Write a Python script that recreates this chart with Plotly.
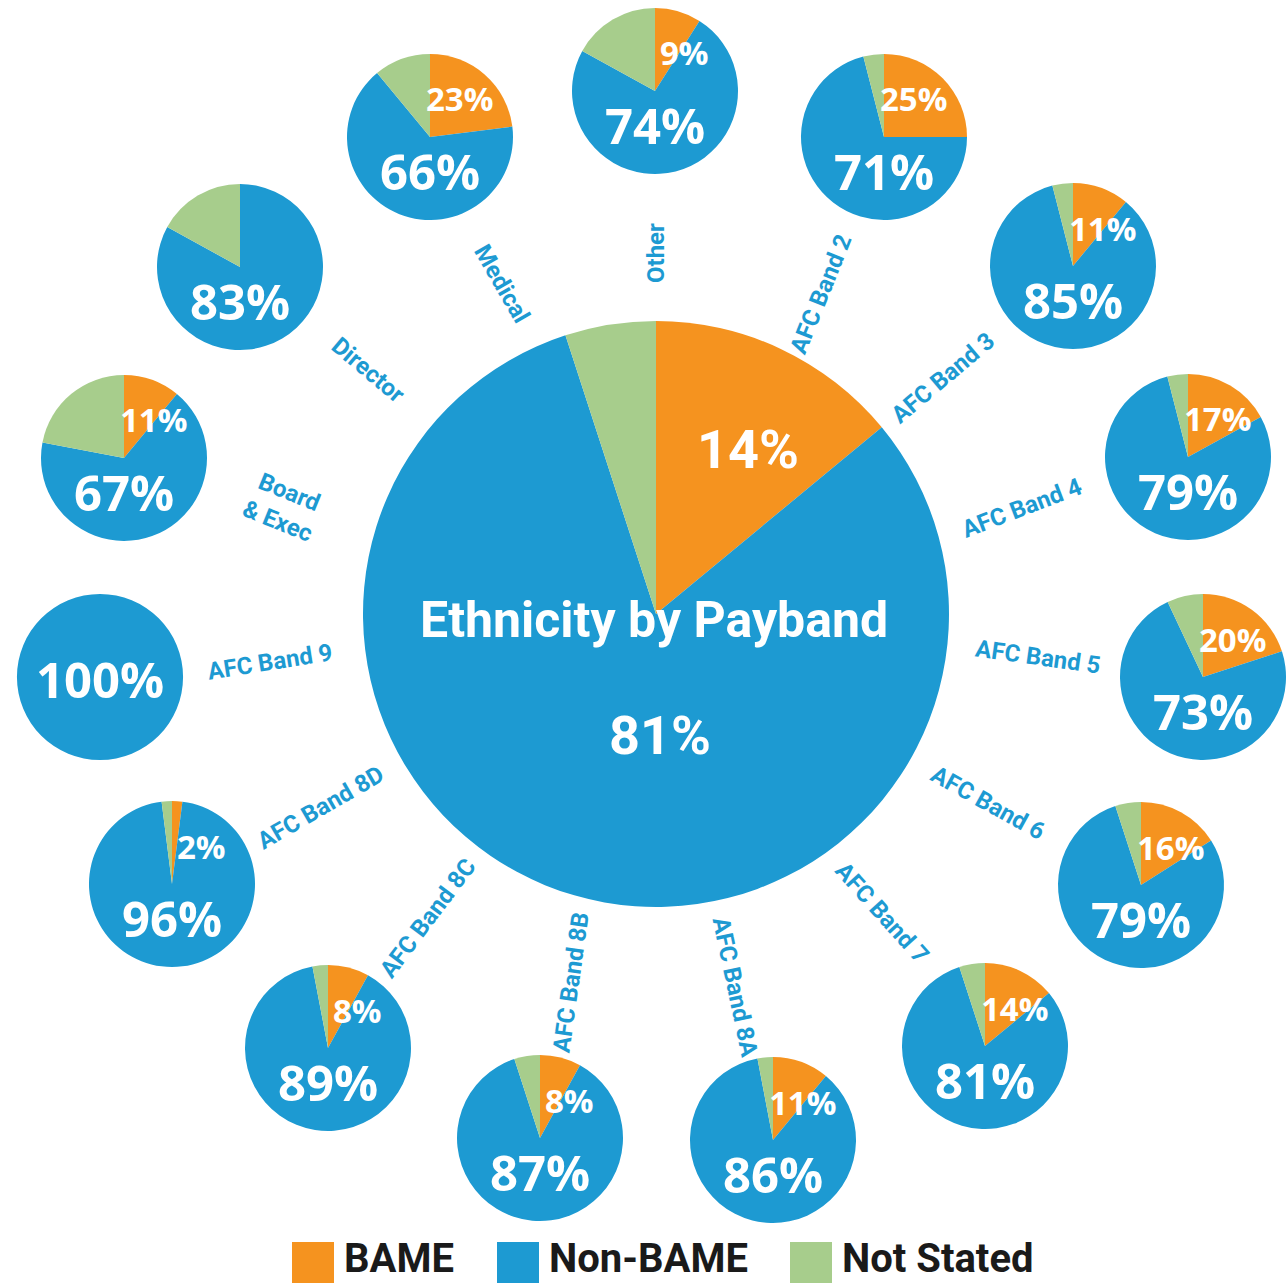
import plotly.graph_objects as go

# ---- data -------------------------------------------------------------
groups = ["Other", "AFC Band 2", "AFC Band 3", "AFC Band 4", "AFC Band 5",
          "AFC Band 6", "AFC Band 7", "AFC Band 8A", "AFC Band 8B",
          "AFC Band 8C", "AFC Band 8D", "AFC Band 9", "Board<br>& Exec",
          "Director", "Medical"]
bame = [9, 25, 11, 17, 20, 16, 14, 11, 8, 8, 2, 0, 11, 0, 23]
non_bame = [74, 71, 85, 79, 73, 79, 81, 86, 87, 89, 96, 100, 67, 83, 66]
not_stated = [17, 4, 4, 4, 7, 5, 5, 3, 5, 3, 2, 0, 22, 17, 11]

overall_title = "Ethnicity by Payband"
overall_bame = 14
overall_non_bame = 81
overall_not_stated = 5

series = ["BAME", "Non-BAME", "Not Stated"]

# ---- styling / layout ---------------------------------------------------
W, H = 1286, 1285
ORANGE = "#F5931F"
BLUE = "#1D9AD2"
GREEN = "#A7CD8C"
colors = [ORANGE, BLUE, GREEN]

PCT_FONT = "Open Sans, Lato, sans-serif"
NARROW_FONT = "Roboto, Liberation Sans, sans-serif"

# pixel centre of each small pie
pie_centres = [(655, 91), (884, 137), (1073, 266), (1188, 457), (1203, 677),
               (1141, 885), (985, 1046), (773, 1140), (540, 1138),
               (328, 1048), (172, 884), (100, 677), (124, 458),
               (240, 267), (430, 137)]
small_r = 83
big_centre = (656, 614)
big_r = 293

# category label placement: centre pixel and rotation
label_pos = [(656, 253), (821, 294), (943, 378), (1022, 508), (1038, 657),
             (988, 803), (882, 913), (735, 987), (571, 983), (428, 918),
             (320, 808), (270, 662), (283, 507), (368, 370), (502, 284)]
label_angle = [-90, -68, -40, -21, 8, 29, 48, 78, -82, -53, -30, -9, 22, 40, 60]


def fx(x):
    return x / W


def fy(y):
    return 1 - y / H


def domain(cx, cy, r):
    return dict(x=[max(0, fx(cx - r)), min(1, fx(cx + r))],
                y=[max(0, fy(cy + r)), min(1, fy(cy - r))])


fig = go.Figure()

# central pie
fig.add_trace(go.Pie(
    labels=series,
    values=[overall_bame, overall_non_bame, overall_not_stated],
    marker=dict(colors=colors, line=dict(width=0)),
    sort=False, direction="clockwise", rotation=0,
    textinfo="none", hoverinfo="label+percent", showlegend=False,
    domain=domain(big_centre[0], big_centre[1], big_r),
))

annotations = []
# small pies around it
for i, g in enumerate(groups):
    cx, cy = pie_centres[i]
    fig.add_trace(go.Pie(
        labels=series,
        values=[bame[i], non_bame[i], not_stated[i]],
        marker=dict(colors=colors, line=dict(width=0)),
        sort=False, direction="clockwise", rotation=0,
        textinfo="none", hoverinfo="label+percent", showlegend=False,
        name=g.replace("<br>", " "),
        domain=domain(cx, cy, small_r),
    ))
    full = bame[i] == 0 and not_stated[i] == 0
    nb_dy = 2 if full else 34
    annotations.append(dict(
        x=fx(cx), y=fy(cy + nb_dy), text=f"{non_bame[i]}%",
        font=dict(family=PCT_FONT, size=49, color="white", weight=700),
    ))
    if bame[i] > 0:
        annotations.append(dict(
            x=fx(cx + 29), y=fy(cy - 38), text=f"{bame[i]}%",
            font=dict(family=PCT_FONT, size=33, color="white", weight=700),
        ))
    lx, ly = label_pos[i]
    annotations.append(dict(
        x=fx(lx), y=fy(ly), text=g, textangle=label_angle[i],
        font=dict(family=NARROW_FONT, size=24, color=BLUE, weight=700),
    ))

# central pie texts
bx, by = big_centre
annotations += [
    dict(x=fx(bx - 2), y=fy(by + 6), text=overall_title,
         font=dict(family=NARROW_FONT, size=50, color="white", weight=700)),
    dict(x=fx(bx + 4), y=fy(by + 121), text=f"{overall_non_bame}%",
         font=dict(family=NARROW_FONT, size=54, color="white", weight=700)),
    dict(x=fx(bx + 92), y=fy(by - 164), text=f"{overall_bame}%",
         font=dict(family=NARROW_FONT, size=54, color="white", weight=700)),
]

# legend row
legend_items = [(292, 342), (497, 547), (790, 840)]
shapes = []
for (sx, tx), name, col in zip(legend_items, series, colors):
    shapes.append(dict(type="rect", xref="paper", yref="paper",
                       x0=fx(sx), x1=fx(sx + 42), y0=fy(1283), y1=fy(1242),
                       fillcolor=col, line=dict(width=0)))
    annotations.append(dict(
        x=fx(tx), y=fy(1258), text=name, xanchor="left",
        font=dict(family=NARROW_FONT, size=40, color="#1a1a1a", weight=700)))

for a in annotations:
    a.setdefault("xref", "paper")
    a.setdefault("yref", "paper")
    a.setdefault("showarrow", False)
    a.setdefault("xanchor", "center")
    a.setdefault("yanchor", "middle")

fig.update_layout(
    width=W, height=H,
    margin=dict(l=0, r=0, t=0, b=0),
    paper_bgcolor="white", plot_bgcolor="white",
    annotations=annotations, shapes=shapes,
    showlegend=False,
)

fig.write_html("out.html")
